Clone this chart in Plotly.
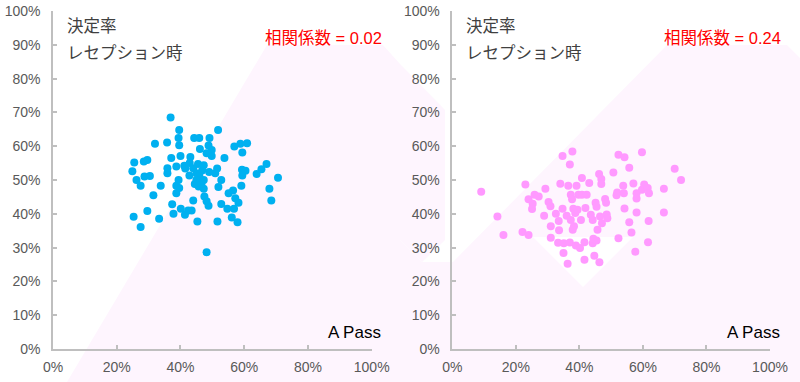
import plotly.graph_objects as go

# ---------------- data (values in %) ----------------
left_x = [36.9, 39.6, 51.8, 39.4, 44.3, 45.9, 49.1, 32.0, 35.8, 39.6, 46.1, 48.8, 49.8, 56.9, 58.8,
          60.9, 59.4, 48.2, 49.8, 40.0, 43.1, 37.1, 53.8, 25.5, 28.5, 29.6, 35.9, 38.7, 41.2, 42.9,
          45.5, 47.3, 41.5, 44.0, 51.5, 67.0, 65.4, 63.9, 59.3, 60.4, 59.4, 70.6, 24.9, 28.7, 30.4,
          35.9, 42.8, 45.9, 49.0, 50.9, 26.2, 39.4, 45.0, 47.3, 52.8, 27.5, 33.8, 38.7, 39.6, 45.7,
          47.3, 51.9, 59.1, 67.9, 56.5, 55.1, 31.5, 38.7, 47.5, 57.2, 44.0, 48.2, 58.2, 68.5, 52.8,
          48.8, 37.4, 40.1, 42.4, 43.5, 54.7, 56.8, 29.6, 37.8, 41.4, 25.3, 33.3, 45.3, 51.6, 56.1,
          57.9, 27.5, 48.2, 45.0, 46.6, 44.5, 46.8]
left_y = [68.5, 64.8, 64.8, 62.4, 62.4, 62.4, 62.4, 60.7, 61.1, 60.3, 59.2, 60.2, 58.9, 59.9, 60.7,
          60.9, 58.1, 57.9, 57.1, 57.1, 56.8, 56.5, 56.5, 55.2, 55.5, 55.9, 53.5, 54.0, 54.2, 55.0,
          54.7, 54.4, 53.4, 53.5, 53.4, 54.7, 53.2, 51.8, 53.0, 52.7, 51.3, 50.7, 52.6, 51.0, 51.2,
          52.0, 51.3, 51.3, 52.4, 52.0, 50.0, 50.0, 50.0, 50.0, 50.0, 48.3, 48.3, 48.3, 47.6, 48.1,
          47.4, 47.9, 48.3, 47.4, 46.9, 46.1, 45.5, 46.1, 45.1, 44.6, 43.9, 43.7, 43.3, 43.9, 42.9,
          42.4, 42.8, 41.5, 41.0, 41.0, 41.5, 41.5, 40.8, 40.0, 39.7, 39.1, 38.5, 37.7, 37.7, 38.9,
          37.5, 36.1, 28.6, 52.0, 49.0, 48.8, 52.8]

right_x = [9.1, 14.2, 16.1, 22.1, 24.0, 23.0, 24.0, 25.3, 25.9, 25.1, 27.2, 29.3, 30.3, 30.9, 28.9,
           31.0, 31.0, 32.6, 33.5, 33.6, 33.3, 34.0, 34.7, 34.7, 35.0, 35.1, 36.0, 36.3, 36.5, 37.0,
           37.8, 37.3, 37.7, 37.3, 37.0, 38.1, 38.3, 37.9, 38.7, 38.9, 39.1, 39.7, 39.4, 40.2, 40.5,
           40.8, 40.8, 41.9, 41.6, 41.6, 42.3, 43.1, 43.6, 44.2, 44.2, 44.4, 44.7, 45.1, 45.4, 45.4,
           45.7, 46.2, 46.3, 46.5, 46.9, 46.9, 47.1, 48.1, 48.4, 48.6, 48.8, 50.7, 51.7, 51.9, 52.3,
           52.3, 53.8, 54.0, 54.2, 54.2, 55.7, 55.7, 56.4, 57.0, 57.6, 58.0, 58.0, 58.0, 59.7, 59.7,
           60.4, 61.5, 61.9, 61.8, 61.6, 66.6, 66.6, 70.0, 72.0]
right_y = [46.5, 39.2, 33.7, 34.6, 33.7, 48.7, 44.3, 43.0, 45.6, 41.4, 45.1, 47.4, 43.5, 42.2, 39.4,
           36.3, 32.9, 40.0, 37.9, 35.1, 31.4, 48.9, 57.1, 41.5, 28.4, 31.3, 39.4, 25.2, 48.3, 54.6,
           58.4, 45.6, 44.3, 38.2, 31.5, 41.5, 36.3, 35.3, 40.2, 30.6, 48.3, 45.6, 41.2, 29.9, 38.2,
           50.6, 45.6, 41.7, 31.6, 26.4, 45.6, 49.1, 39.7, 38.2, 31.3, 32.6, 27.6, 43.3, 42.1, 32.1,
           35.3, 51.8, 25.7, 39.2, 50.3, 48.8, 37.2, 44.4, 43.3, 39.8, 38.7, 52.2, 45.5, 46.3, 57.5,
           32.8, 48.3, 46.1, 56.7, 41.6, 53.6, 37.5, 34.5, 49.0, 28.8, 46.1, 44.5, 40.4, 58.2, 47.1,
           48.7, 47.6, 46.1, 37.9, 31.6, 47.4, 40.4, 53.3, 50.0]

tick_vals = [0, 20, 40, 60, 80, 100]
tick_text = ["0%", "20%", "40%", "60%", "80%", "100%"]
ytick_vals = [0, 10, 20, 30, 40, 50, 60, 70, 80, 90, 100]
ytick_text = [f"{v}%" for v in ytick_vals]

title_line1 = "決定率"
title_line2 = "レセプション時"
corr_left = "相関係数 = 0.02"
corr_right = "相関係数 = 0.24"
corner_label = "A Pass"

# ---------------- layout helpers ----------------
W, H = 800, 382
ML, MR, MT, MB = 53, 30, 11, 33
PW, PH = W - ML - MR, H - MT - MB


def px(x):
    # window pixel -> paper x
    return (x - ML) / PW


def py(y):
    # window pixel -> paper y
    return (H - MB - y) / PH


blue = "#00B0F0"
pink = "#FF99FF"
bg_pink = "#FEF5FE"
gray_txt = "#595959"
axis_col = "#BFBFBF"

fig = go.Figure()
fig.add_trace(go.Scatter(x=left_x, y=left_y, mode="markers", xaxis="x", yaxis="y",
                         marker=dict(color=blue, size=8, line=dict(width=0)), showlegend=False))
fig.add_trace(go.Scatter(x=right_x, y=right_y, mode="markers", xaxis="x2", yaxis="y2",
                         marker=dict(color=pink, size=8, line=dict(width=0)), showlegend=False))

axis_common = dict(range=[0, 100], showgrid=False, zeroline=False, showline=True,
                   linecolor=axis_col, linewidth=1.5, ticks="inside", ticklen=4,
                   tickcolor=axis_col, tickwidth=1.5, automargin=False,
                   tickfont=dict(family="Liberation Sans, Arial", size=14, color=gray_txt),
                   fixedrange=True)

d1 = [0, px(371.7)]
d2 = [px(452.3), 1]

fig.update_layout(
    width=W, height=H, margin=dict(l=ML, r=MR, t=MT, b=MB),
    paper_bgcolor="white", plot_bgcolor="rgba(0,0,0,0)",
    xaxis=dict(domain=d1, anchor="y", tickvals=tick_vals, ticktext=tick_text,
               ticklabelstandoff=4, **axis_common),
    yaxis=dict(domain=[0, 1], anchor="x", tickvals=ytick_vals, ticktext=ytick_text,
               ticklabelstandoff=8, **axis_common),
    xaxis2=dict(domain=d2, anchor="y2", tickvals=tick_vals, ticktext=tick_text,
                ticklabelstandoff=4, **axis_common),
    yaxis2=dict(domain=[0, 1], anchor="x2", tickvals=ytick_vals, ticktext=ytick_text,
                ticklabelstandoff=8, **axis_common),
)


def poly(points, color):
    path = "M " + " L ".join(f"{px(a)},{py(b)}" for a, b in points) + " Z"
    fig.add_shape(type="path", path=path, xref="paper", yref="paper",
                  fillcolor=color, line=dict(width=0), layer="below")


# decorative faint background diamonds
poly([(67, 382), (267, 45), (383, 45), (400, 64), (400, 382)], bg_pink)
poly([(400, 240), (422, 262), (453, 262), (667, 45), (787, 45), (800, 58), (800, 382),
      (400, 382)], bg_pink)
poly([(400, 64), (445, 110), (445, 240), (422, 262), (400, 240)], bg_pink)
poly([(583, 287), (533, 237), (633, 237)], "white")

for off, corr in [(0, corr_left), (399, corr_right)]:
    fig.add_annotation(x=px(65 + off), y=py(25), xref="paper", yref="paper", text=title_line1,
                       showarrow=False, xanchor="left", yanchor="middle",
                       font=dict(family="Noto Sans CJK JP", size=16.5, color="#404040"))
    fig.add_annotation(x=px(65 + off), y=py(52), xref="paper", yref="paper", text=title_line2,
                       showarrow=False, xanchor="left", yanchor="middle",
                       font=dict(family="Noto Sans CJK JP", size=16.5, color="#404040"))
    fig.add_annotation(x=px(384 + off), y=py(38), xref="paper", yref="paper", text=corr,
                       showarrow=False, xanchor="right", yanchor="middle",
                       font=dict(family="Liberation Sans, Noto Sans CJK JP", size=16.5, color="#FF0000"))
    fig.add_annotation(x=px(383 + off), y=py(332), xref="paper", yref="paper", text=corner_label,
                       showarrow=False, xanchor="right", yanchor="middle",
                       font=dict(family="Liberation Sans, Arial", size=17, color="black"))

# remove the browser's default 8px body margin so the figure fills the window exactly
fig.write_html("out.html", config={"displayModeBar": False},
               post_script="document.body.style.margin='0';")
